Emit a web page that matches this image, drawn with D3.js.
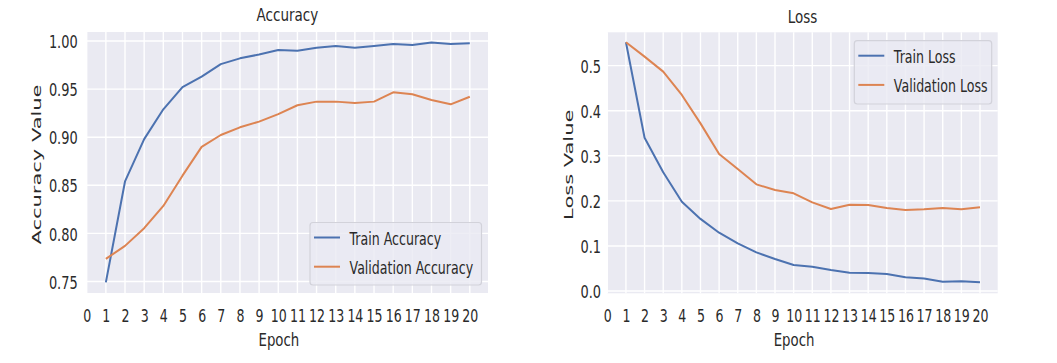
<!DOCTYPE html>
<html>
<head>
<meta charset="utf-8">
<script src="https://cdn.jsdelivr.net/npm/d3@7"></script>
<style>
  body { margin: 0; background: #fff; }
  svg { display: block; }
  text { font-family: "DejaVu Sans", sans-serif; fill: #2a2a2a; }
</style>
</head>
<body>
<div id="chart"></div>
<script>
// training history
const epochs = [1, 2, 3, 4, 5, 6, 7, 8, 9, 10, 11, 12, 13, 14, 15, 16, 17, 18, 19, 20];
const epochTicks = [0, 1, 2, 3, 4, 5, 6, 7, 8, 9, 10, 11, 12, 13, 14, 15, 16, 17, 18, 19, 20];

const trainAcc = [0.749, 0.854, 0.898, 0.929, 0.952, 0.963, 0.976, 0.982, 0.986, 0.9906,
                  0.990, 0.993, 0.9948, 0.993, 0.9948, 0.997, 0.9958, 0.9986, 0.9969, 0.9976];
const valAcc = [0.7735, 0.787, 0.8054, 0.8285, 0.860, 0.890, 0.9023, 0.9103, 0.9162, 0.924,
                0.9332, 0.937, 0.937, 0.9356, 0.937, 0.9467, 0.9446, 0.9387, 0.9342, 0.9421];
const accTicks = [0.75, 0.80, 0.85, 0.90, 0.95, 1.00];

const trainLoss = [0.552, 0.340, 0.2634, 0.198, 0.160, 0.1294, 0.1058, 0.0858, 0.071, 0.0577,
                   0.054, 0.0466, 0.0407, 0.040, 0.0377, 0.0304, 0.028, 0.0206, 0.022, 0.0193];
const valLoss = [0.552, 0.520, 0.4867, 0.435, 0.372, 0.304, 0.2707, 0.2367, 0.224, 0.2168,
                 0.1968, 0.182, 0.1915, 0.191, 0.184, 0.1798, 0.1813, 0.184, 0.1813, 0.1857];
const lossTicks = [0.0, 0.1, 0.2, 0.3, 0.4, 0.5];

const width = 1057, height = 363;
const blue = "#4C72B0", orange = "#DD8452";
const sx = 0.7; // the picture is squeezed sideways, so the text is too

const svg = d3.select("#chart").append("svg")
  .attr("width", width)
  .attr("height", height);

// one panel = background, grid, two lines, labels, legend
function drawPanel(p) {
  const x = d3.scaleLinear().domain([0, 20.95]).range([p.left, p.right]);
  const y = d3.scaleLinear().domain(p.yDomain).range([p.bottom, p.top]);
  const g = svg.append("g");

  g.append("rect")
    .attr("x", p.left).attr("y", p.top)
    .attr("width", p.right - p.left).attr("height", p.bottom - p.top)
    .attr("fill", "#EAEAF2");

  // grid lines
  g.append("g").selectAll("line.v")
    .data(epochTicks)
    .join("line")
    .attr("x1", d => x(d)).attr("x2", d => x(d))
    .attr("y1", p.top).attr("y2", p.bottom)
    .attr("stroke", "#fff").attr("stroke-width", 1.4);
  g.append("g").selectAll("line.h")
    .data(p.yTicks)
    .join("line")
    .attr("x1", p.left).attr("x2", p.right)
    .attr("y1", d => y(d)).attr("y2", d => y(d))
    .attr("stroke", "#fff").attr("stroke-width", 1.4);

  // axes (no tick marks, only labels)
  const xAxis = g.append("g")
    .attr("transform", `translate(0,${p.bottom})`)
    .call(d3.axisBottom(x).tickValues(epochTicks).tickFormat(d3.format("d")).tickSize(0));
  xAxis.select(".domain").remove();
  xAxis.selectAll("text")
    .attr("y", 0).attr("dy", 0)
    .attr("font-size", 18.5)
    .attr("font-family", "DejaVu Sans")
    .attr("fill", "#2a2a2a")
    .attr("transform", `translate(0,28.6) scale(0.68,1)`);

  const yAxis = g.append("g")
    .attr("transform", `translate(${p.left},0)`)
    .call(d3.axisLeft(y).tickValues(p.yTicks).tickFormat(d3.format(p.fmt)).tickSize(0));
  yAxis.select(".domain").remove();
  yAxis.selectAll("text")
    .attr("x", 0).attr("dy", "0.36em")
    .attr("font-size", 18.5)
    .attr("font-family", "DejaVu Sans")
    .attr("fill", "#2a2a2a")
    .attr("transform", `translate(${-p.tickPad},0) scale(${sx},1)`);

  // lines
  const line = d3.line().x((d, i) => x(epochs[i])).y(d => y(d));
  p.series.forEach(s => {
    g.append("path")
      .datum(s.values)
      .attr("fill", "none")
      .attr("stroke", s.color)
      .attr("stroke-width", 2)
      .attr("stroke-linejoin", "round")
      .attr("d", line);
  });

  const cx = (p.left + p.right) / 2;

  // title
  g.append("text")
    .attr("text-anchor", "middle")
    .attr("font-size", 18)
    .attr("transform", `translate(${cx},${p.titleY}) scale(0.75,1)`)
    .text(p.title);

  // axis labels
  g.append("text")
    .attr("text-anchor", "middle")
    .attr("font-size", 18.5)
    .attr("transform", `translate(${cx - 8.5},345.5) scale(0.72,1)`)
    .text("Epoch");

  g.append("text")
    .attr("text-anchor", "middle")
    .attr("font-size", 21)
    .attr("transform", `translate(${p.yLabelX},${(p.top + p.bottom) / 2 + 2}) scale(0.6,1) rotate(-90)`)
    .text(p.yLabel);

  // legend
  const lg = g.append("g");
  lg.append("rect")
    .attr("x", p.legend.x).attr("y", p.legend.y)
    .attr("width", p.legend.w).attr("height", p.legend.h)
    .attr("rx", 3)
    .attr("fill", "#EAEAF2").attr("fill-opacity", 0.8)
    .attr("stroke", "#D2D2DA").attr("stroke-width", 1.2);
  p.series.forEach((s, i) => {
    const ly = p.legend.y + 15 + i * 29.2;
    lg.append("line")
      .attr("x1", p.legend.x + 4).attr("x2", p.legend.x + 30)
      .attr("y1", ly).attr("y2", ly)
      .attr("stroke", s.color).attr("stroke-width", 2);
    lg.append("text")
      .attr("font-size", 18)
      .attr("transform", `translate(${p.legend.x + 39.5},${ly + 7}) scale(${sx},1)`)
      .text(s.name);
  });
}

drawPanel({
  left: 86.7, right: 488, top: 32, bottom: 293,
  yDomain: [0.738, 1.0094], yTicks: accTicks, fmt: ".2f", tickPad: 9,
  title: "Accuracy", titleY: 20.7,
  yLabel: "Accuracy Value", yLabelX: 40.5,
  legend: { x: 310, y: 222.5, w: 171.5, h: 62.5 },
  series: [
    { name: "Train Accuracy", values: trainAcc, color: blue },
    { name: "Validation Accuracy", values: valAcc, color: orange }
  ]
});

drawPanel({
  left: 607.3, right: 997.7, top: 32.3, bottom: 293.3,
  yDomain: [-0.005, 0.574], yTicks: lossTicks, fmt: ".1f", tickPad: 6.3,
  title: "Loss", titleY: 23,
  yLabel: "Loss Value", yLabelX: 572.5,
  legend: { x: 854.3, y: 40.7, w: 137.4, h: 63.3 },
  series: [
    { name: "Train Loss", values: trainLoss, color: blue },
    { name: "Validation Loss", values: valLoss, color: orange }
  ]
});
</script>
</body>
</html>
